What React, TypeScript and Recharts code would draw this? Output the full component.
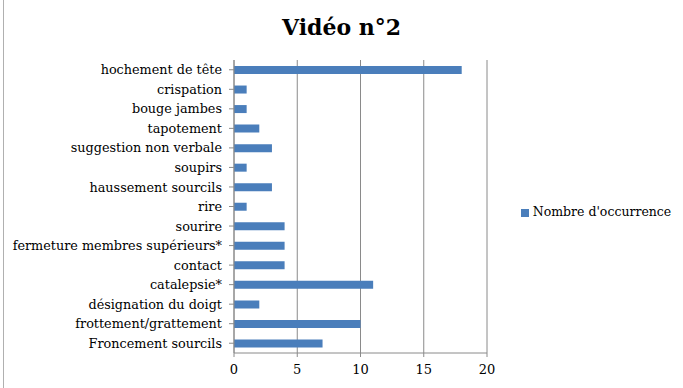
import React from 'react'
import { BarChart, Bar, XAxis, YAxis, CartesianGrid, Legend } from 'recharts'

// categories listed top to bottom, as they appear in the chart
const categories = [
  'hochement de tête',
  'crispation',
  'bouge jambes',
  'tapotement',
  'suggestion non verbale',
  'soupirs',
  'haussement sourcils',
  'rire',
  'sourire',
  'fermeture membres supérieurs*',
  'contact',
  'catalepsie*',
  'désignation du doigt',
  'frottement/grattement',
  'Froncement sourcils',
]
const occurrences = [18, 1, 1, 2, 3, 1, 3, 1, 4, 4, 4, 11, 2, 10, 7]
const xTicks = [0, 5, 10, 15, 20]

const seriesName = "Nombre d'occurrence"
const font = '"DejaVu Serif", serif'
const gridColor = '#8a8a8a'

const data = categories.map((name, i) => ({ name, value: occurrences[i] }))

export default function App() {
  return (
    <div style={{ position: 'absolute', left: 0, top: 0, width: 683, height: 388, background: '#fff', fontFamily: font }}>
      <div style={{ position: 'absolute', left: 3, top: 0, width: 1, height: 388, background: '#b0b0b0' }} />
      <div
        style={{
          position: 'absolute',
          left: 0,
          width: 683,
          top: 14,
          textAlign: 'center',
          fontSize: 22,
          fontWeight: 'bold',
          color: '#000',
        }}
      >
        Vidéo n°2
      </div>
      <BarChart
        width={683}
        height={388}
        data={data}
        layout="vertical"
        margin={{ top: 60, right: 196, bottom: 0, left: 14 }}
        style={{ position: 'absolute', left: 0, top: 0 }}
      >
        <CartesianGrid horizontal={false} stroke={gridColor} />
        <XAxis
          type="number"
          domain={[0, 20]}
          ticks={xTicks}
          height={35}
          stroke={gridColor}
          tickSize={4}
          tickMargin={8}
          tick={{ fill: '#000', fontSize: 13, fontFamily: font }}
        />
        <YAxis
          type="category"
          dataKey="name"
          width={220}
          stroke={gridColor}
          tickSize={5}
          tickMargin={7}
          interval={0}
          tick={{ fill: '#000', fontSize: 12.8, fontFamily: font }}
        />
        <Bar dataKey="value" name={seriesName} fill="#4a7ebb" barSize={8} isAnimationActive={false} />
        <Legend
          layout="horizontal"
          align="center"
          verticalAlign="middle"
          iconType="square"
          iconSize={8}
          wrapperStyle={{ left: 516, top: 204, width: 170, textAlign: 'left', fontSize: 12.5, fontFamily: font, color: '#000' }}
          formatter={(value: string) => <span style={{ color: '#000' }}>{value}</span>}
        />
      </BarChart>
    </div>
  )
}
